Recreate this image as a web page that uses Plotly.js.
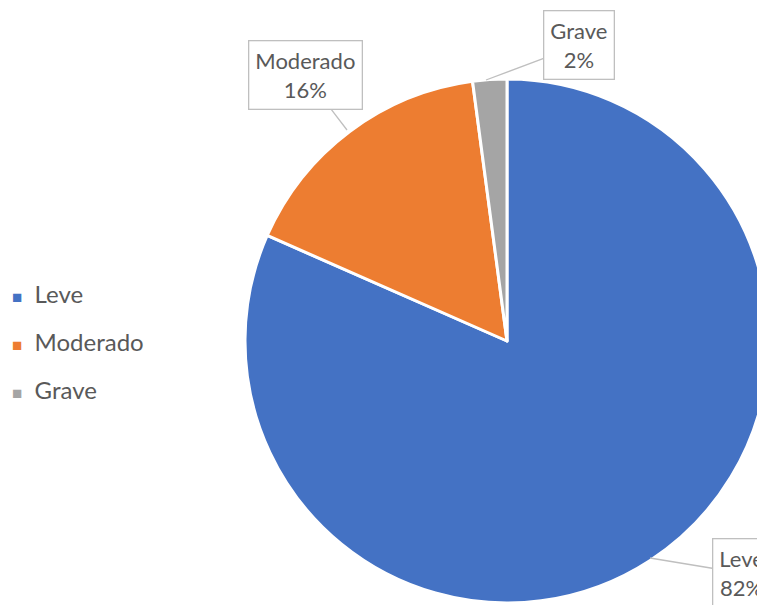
<!DOCTYPE html>
<html>
<head>
<meta charset="utf-8">
<script src="https://cdn.plot.ly/plotly-3.0.1.min.js"></script>
<style>
html,body{margin:0;padding:0;overflow:hidden;background:#fff;}
#chart{width:800px;height:605px;}
</style>
</head>
<body>
<div id="chart"></div>
<script>
const categories = ["Leve", "Moderado", "Grave"];
const values = [81.6, 16.3, 2.1];
const percentLabels = ["82%", "16%", "2%"];
const colors = ["#4472C4", "#ED7D31", "#A5A5A5"];

const W = 800, H = 605;
const FONT = "Lato, 'Liberation Sans', sans-serif";

// callout placement (pixel) for each category: anchor point on slice edge, box center
const calloutAnchor = [[650, 558], [347, 130], [486, 80]];
const calloutBox = [[741, 573], [305, 75], [579, 45]];

const annotations = categories.map((c, i) => ({
  xref: "paper", yref: "paper",
  x: calloutAnchor[i][0] / W, y: 1 - calloutAnchor[i][1] / H,
  ax: calloutBox[i][0] - calloutAnchor[i][0],
  ay: calloutBox[i][1] - calloutAnchor[i][1],
  text: c + "<br>" + percentLabels[i],
  showarrow: true, arrowhead: 0, arrowwidth: 1.3, arrowcolor: "#BFBFBF",
  bordercolor: "#BFBFBF", borderwidth: 1.3, borderpad: 6, bgcolor: "#FFFFFF",
  font: {family: FONT, size: 22, color: "#595959"}, align: "center"
}));

// legend as text annotations
categories.forEach((c, i) => {
  annotations.push({
    xref: "paper", yref: "paper", x: 10 / W, y: 1 - (293 + 48 * i) / H,
    xanchor: "left", yanchor: "middle", showarrow: false,
    text: '<span style="color:' + colors[i] + ';font-size:17px">■</span>&nbsp;&nbsp;' + c,
    font: {family: FONT, size: 24, color: "#595959"}
  });
});

const data = [{
  type: "pie",
  labels: categories,
  values: values,
  sort: false,
  direction: "clockwise",
  rotation: 0,
  marker: {colors: colors, line: {color: "#FFFFFF", width: 3}},
  textinfo: "none",
  hoverinfo: "label+percent",
  showlegend: false,
  domain: {x: [245 / W, 769 / W], y: [1 - 603 / H, 1 - 79 / H]}
}];

const layout = {
  width: W, height: H,
  margin: {l: 0, r: 0, t: 0, b: 0},
  paper_bgcolor: "#FFFFFF",
  showlegend: false,
  annotations: annotations
};

Plotly.newPlot("chart", data, layout, {displayModeBar: false, staticPlot: true});
</script>
</body>
</html>
